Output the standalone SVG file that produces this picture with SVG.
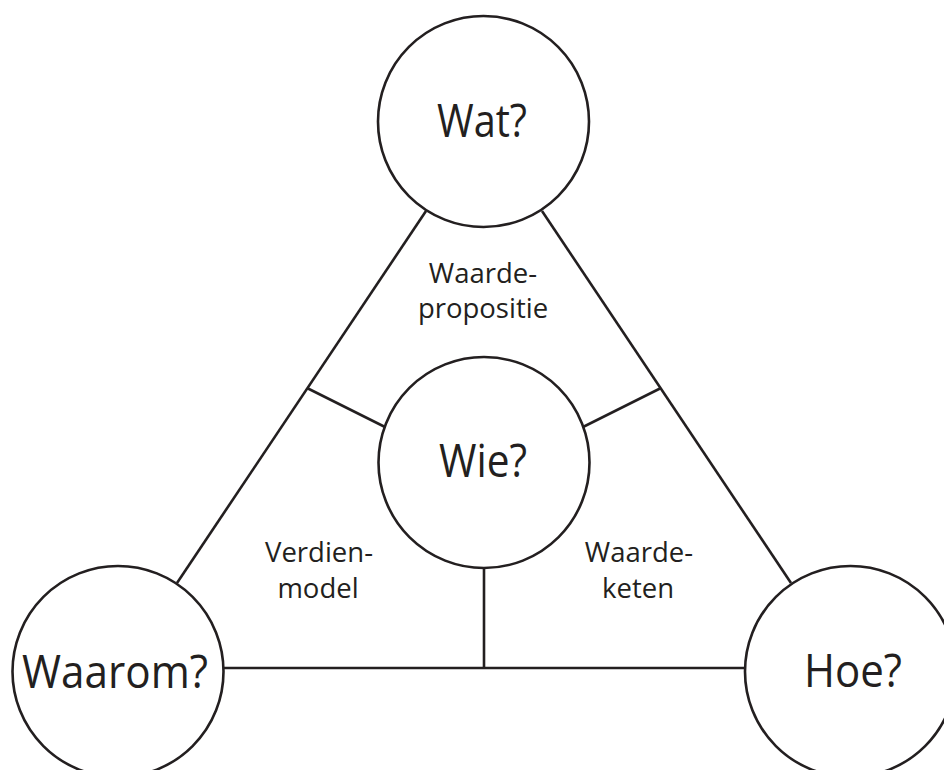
<svg xmlns="http://www.w3.org/2000/svg" width="944" height="770" viewBox="0 0 944 770">
  <style>
    .ring { fill: #ffffff; stroke: #231f20; stroke-width: 2.6; }
    .edge { fill: none; stroke: #231f20; stroke-width: 2.6; stroke-linecap: butt; }
    .big { font-family: "Open Sans", "Noto Sans", sans-serif; font-size: 46px; fill: #231f20; text-anchor: middle; }
    .small { font-family: "Open Sans", "Noto Sans", sans-serif; font-size: 27.5px; fill: #231f20; text-anchor: middle; }
  </style>
  <rect width="944" height="770" fill="#ffffff"/>

  <!-- triangle sides and spokes to the centre -->
  <g id="connectors">
    <line class="edge" x1="426" y1="211" x2="177" y2="583"/>
    <line class="edge" x1="542" y1="211" x2="791" y2="583"/>
    <line class="edge" x1="223" y1="668" x2="745" y2="668"/>
    <line class="edge" x1="307" y1="388" x2="385" y2="427"/>
    <line class="edge" x1="661" y1="388" x2="583" y2="427"/>
    <line class="edge" x1="484" y1="567" x2="484" y2="669"/>
  </g>

  <g id="wat">
    <circle class="ring" cx="483.5" cy="121.5" r="105.5"/>
    <text class="big" x="482" y="137" textLength="90" lengthAdjust="spacingAndGlyphs">Wat?</text>
  </g>

  <g id="wie">
    <circle class="ring" cx="484" cy="462.5" r="105.5"/>
    <text class="big" x="483" y="477" textLength="88" lengthAdjust="spacingAndGlyphs">Wie?</text>
  </g>

  <g id="waarom">
    <circle class="ring" cx="118" cy="671.5" r="105.5"/>
    <text class="big" x="115" y="688" textLength="186" lengthAdjust="spacingAndGlyphs">Waarom?</text>
  </g>

  <g id="hoe">
    <circle class="ring" cx="850.5" cy="671.5" r="105.5"/>
    <text class="big" x="853" y="687" textLength="98" lengthAdjust="spacingAndGlyphs">Hoe?</text>
  </g>

  <g id="label-waardepropositie">
    <text class="small" x="483" y="283">Waarde-</text>
    <text class="small" x="483" y="318">propositie</text>
  </g>

  <g id="label-verdienmodel">
    <text class="small" x="319" y="562">Verdien-</text>
    <text class="small" x="318" y="598">model</text>
  </g>

  <g id="label-waardeketen">
    <text class="small" x="639" y="562">Waarde-</text>
    <text class="small" x="638" y="598">keten</text>
  </g>
</svg>
